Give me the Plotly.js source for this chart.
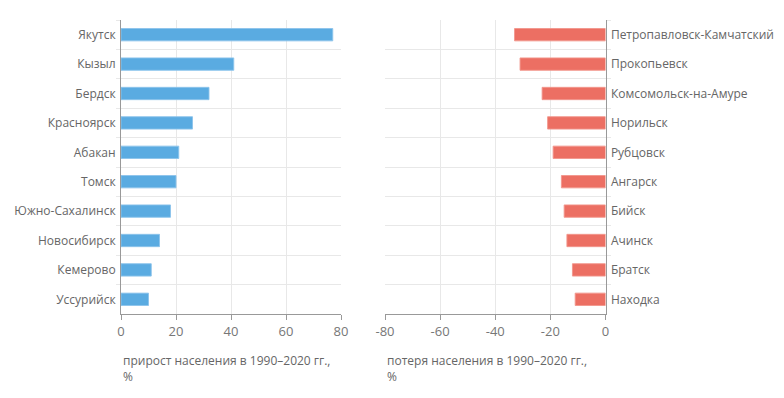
<!DOCTYPE html>
<html><head><meta charset="utf-8">
<script src="https://cdn.plot.ly/plotly-3.0.1.min.js"></script>
<style>html,body{margin:0;padding:0;background:#fff}#chart{width:784px;height:398px}</style>
</head><body><div id="chart"></div>
<script>
const growthCities = ["Якутск","Кызыл","Бердск","Красноярск","Абакан","Томск","Южно-Сахалинск","Новосибирск","Кемерово","Уссурийск"];
const growthValues = [77,41,32,26,21,20,18,14,11,10];
const lossCities = ["Петропавловск-Камчатский","Прокопьевск","Комсомольск-на-Амуре","Норильск","Рубцовск","Ангарск","Бийск","Ачинск","Братск","Находка"];
const lossValues = [-33,-31,-23,-21,-19,-16,-15,-14,-12,-11];
const growthTicks = [0,20,40,60,80];
const growthTickText = ["0","20","40","60","80"];
const lossTicks = [-80,-60,-40,-20,0];
const lossTickText = ["-80","-60","-40","-20","0"];
const growthTitle = "прирост населения в 1990–2020 гг.,<br>%";
const lossTitle = "потеря населения в 1990–2020 гг.,<br>%";

const font = {family:"Open Sans, sans-serif", size:12, color:"#666"};
const grid = "#e8e8e8";
const axisCol = "#999";

const traces = [
  {type:"bar", orientation:"h", y:growthCities, x:growthValues, xaxis:"x", yaxis:"y",
   marker:{color:"#5AABE1", line:{color:"rgba(140,195,235,0.9)", width:1}}, hoverinfo:"x+y"},
  {type:"bar", orientation:"h", y:lossCities, x:lossValues, xaxis:"x2", yaxis:"y2",
   marker:{color:"#EC6F63", line:{color:"rgba(242,150,140,0.9)", width:1}}, hoverinfo:"x+y"}
];

const xcommon = {showgrid:true, gridcolor:grid, gridwidth:1, zeroline:false, showline:true, linecolor:axisCol, linewidth:1,
  ticks:"outside", ticklen:5, tickcolor:axisCol, tickfont:{family:font.family, size:13, color:"#777"}, fixedrange:true};
const ycommon = {type:"category", autorange:"reversed", showgrid:true, gridcolor:grid, gridwidth:1, zeroline:false,
  showline:true, linecolor:axisCol, linewidth:1, ticks:"outside", ticklen:4, tickcolor:grid, tickson:"boundaries",
  tickfont:font, ticklabelstandoff:2, fixedrange:true};

function titleAnn(text, x) {
  return {text:text, xref:"paper", yref:"paper", x:x, y:-0.1837, xanchor:"left", yanchor:"middle",
    align:"left", showarrow:false, font:font};
}

const layout = {
  width:784, height:398, margin:{l:0, r:0, t:20, b:84}, paper_bgcolor:"#fff", plot_bgcolor:"#fff",
  showlegend:false, bargap:0.58, font:font,
  xaxis: Object.assign({}, xcommon, {domain:[121/784, 341/784], range:[0,80], tickvals:growthTicks, ticktext:growthTickText, anchor:"y"}),
  yaxis: Object.assign({}, ycommon, {anchor:"x", side:"left"}),
  xaxis2: Object.assign({}, xcommon, {domain:[385/784, 605.5/784], range:[-80,0], tickvals:lossTicks, ticktext:lossTickText, anchor:"y2"}),
  yaxis2: Object.assign({}, ycommon, {anchor:"x2", side:"right"}),
  annotations: [titleAnn(growthTitle, 121/784), titleAnn(lossTitle, 385/784)]
};
Plotly.newPlot("chart", traces, layout, {displayModeBar:false, staticPlot:true});
</script></body></html>
